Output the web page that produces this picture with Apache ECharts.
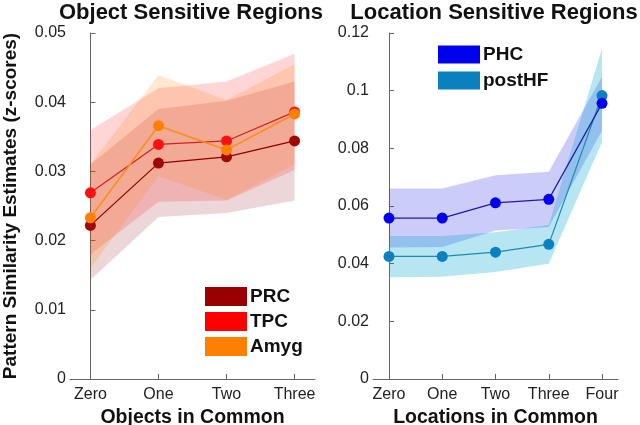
<!DOCTYPE html>
<html>
<head>
<meta charset="utf-8">
<script src="https://cdn.jsdelivr.net/npm/echarts@6/dist/echarts.min.js"></script>
<style>
  html, body { margin: 0; padding: 0; background: #fff; }
  #chart { width: 640px; height: 425px; }
</style>
</head>
<body>
<div id="chart"></div>
<script>
// left panel: object sensitive regions
const objLabels = ['Zero', 'One', 'Two', 'Three'];
const prcMean = [0.0222, 0.0312, 0.0321, 0.0344];
const prcLow = [0.0143, 0.0234, 0.0240, 0.0258];
const prcHigh = [0.0310, 0.0390, 0.0402, 0.0430];
const tpcMean = [0.0269, 0.0339, 0.0344, 0.0386];
const tpcLow = [0.0180, 0.0256, 0.0258, 0.0302];
const tpcHigh = [0.0360, 0.0420, 0.0430, 0.0470];
const amygMean = [0.0233, 0.0366, 0.0331, 0.0383];
const amygLow = [0.0160, 0.0293, 0.0259, 0.0310];
const amygHigh = [0.0310, 0.0439, 0.0403, 0.0455];

// right panel: location sensitive regions
const locLabels = ['Zero', 'One', 'Two', 'Three', 'Four'];
const phcMean = [0.0558, 0.0558, 0.0611, 0.0623, 0.0956];
const phcLow = [0.0456, 0.0458, 0.0515, 0.0527, 0.0862];
const phcHigh = [0.0661, 0.0661, 0.0707, 0.0719, 0.1048];
const hfMean = [0.0425, 0.0425, 0.0440, 0.0467, 0.0983];
const hfLow = [0.0353, 0.0355, 0.0371, 0.0400, 0.0822];
const hfHigh = [0.0496, 0.0496, 0.0509, 0.0534, 0.1147];

const FONT = '"Liberation Sans", Arial, Helvetica, sans-serif';
const AXIS = '#666';

const chart = echarts.init(document.getElementById('chart'));

// shaded error band, drawn as one polygon
function band(name, gi, low, high, fill, color) {
  return {
    type: 'custom',
    name: name,
    xAxisIndex: gi,
    yAxisIndex: gi,
    silent: true,
    z: 1,
    itemStyle: { color: color },
    data: low.map((v, i) => [i, v, high[i]]),
    encode: { x: 0, y: [1, 2] },
    renderItem: (params, api) => {
      if (params.dataIndex !== 0) return null;
      const top = high.map((v, i) => api.coord([i, v]));
      const bot = low.map((v, i) => api.coord([i, v])).reverse();
      return {
        type: 'polygon',
        shape: { points: top.concat(bot) },
        style: { fill: fill }
      };
    }
  };
}

function meanLine(name, gi, vals, dot, line, width) {
  return {
    type: 'line',
    name: name,
    xAxisIndex: gi,
    yAxisIndex: gi,
    z: 3,
    data: vals.map((v, i) => [i, v]),
    symbol: 'circle',
    symbolSize: 11,
    itemStyle: { color: dot },
    lineStyle: { color: line, width: width },
    silent: true
  };
}

function xAxis(gi, labels, name) {
  const ticks = labels.map((_, i) => i);
  return {
    type: 'value',
    gridIndex: gi,
    min: -0.3,
    max: labels.length - 0.7,
    axisLine: { lineStyle: { color: AXIS, width: 1 } },
    axisTick: { inside: true, length: 5, customValues: ticks, lineStyle: { color: AXIS } },
    axisLabel: {
      customValues: ticks,
      formatter: v => labels[Math.round(v)],
      fontSize: 16, color: '#222', fontFamily: FONT, margin: 8
    },
    splitLine: { show: false },
    name: name,
    nameLocation: 'middle',
    nameGap: 25,
    nameTextStyle: { fontSize: 19.5, fontWeight: 'bold', color: '#111', fontFamily: FONT }
  };
}

function yAxis(gi, max, interval, extra) {
  return Object.assign({
    type: 'value',
    gridIndex: gi,
    min: 0,
    max: max,
    interval: interval,
    axisLine: { show: true, lineStyle: { color: AXIS, width: 1 } },
    axisTick: { show: true, inside: true, length: 5, lineStyle: { color: AXIS } },
    axisLabel: { fontSize: 16, color: '#222', fontFamily: FONT, margin: 4 },
    splitLine: { show: false }
  }, extra || {});
}

const legendText = { fontSize: 19, fontWeight: 'bold', color: '#111', fontFamily: FONT, padding: [0, 0, 0, -2] };

const option = {
  backgroundColor: '#fff',
  animation: false,
  grid: [
    { left: 70, top: 33, width: 245, height: 346, containLabel: false, outerBoundsMode: 'none' },
    { left: 373, top: 33, width: 245, height: 346, containLabel: false, outerBoundsMode: 'none' }
  ],
  graphic: [
    {
      type: 'text', x: 191, y: 13,
      style: {
        text: 'Object Sensitive Regions', fontSize: 22, fontWeight: 'bold',
        fontFamily: FONT, fill: '#111', align: 'center', verticalAlign: 'middle'
      }
    },
    {
      type: 'text', x: 494, y: 13,
      style: {
        text: 'Location Sensitive Regions', fontSize: 22, fontWeight: 'bold',
        fontFamily: FONT, fill: '#111', align: 'center', verticalAlign: 'middle'
      }
    }
  ],
  legend: [
    {
      left: 205, top: 287, orient: 'vertical', padding: 0,
      icon: 'rect', itemWidth: 42, itemHeight: 19, itemGap: 6,
      selectedMode: false,
      textStyle: legendText,
      data: ['PRC', 'TPC', 'Amyg']
    },
    {
      left: 438, top: 45, orient: 'vertical', padding: 0,
      icon: 'rect', itemWidth: 42, itemHeight: 18, itemGap: 7,
      selectedMode: false,
      textStyle: legendText,
      data: ['PHC', 'postHF']
    }
  ],
  xAxis: [
    xAxis(0, objLabels, 'Objects in Common'),
    xAxis(1, locLabels, 'Locations in Common')
  ],
  yAxis: [
    yAxis(0, 0.05, 0.01, {
      name: 'Pattern Similarity Estimates (z-scores)',
      nameLocation: 'middle',
      nameGap: 50,
      nameTextStyle: { fontSize: 19, fontWeight: 'bold', color: '#111', fontFamily: FONT }
    }),
    yAxis(1, 0.12, 0.02)
  ],
  series: [
    band('PRC', 0, prcLow, prcHigh, 'rgba(150,10,20,0.17)', '#990000'),
    band('TPC', 0, tpcLow, tpcHigh, 'rgba(255,20,30,0.18)', '#ff0000'),
    band('Amyg', 0, amygLow, amygHigh, 'rgba(255,135,20,0.2)', '#ff8000'),
    meanLine('PRC mean', 0, prcMean, '#a00808', '#8b0000', 1.2),
    meanLine('TPC mean', 0, tpcMean, '#ff1010', '#d42020', 1.2),
    meanLine('Amyg mean', 0, amygMean, '#ff8000', '#ff8c1a', 1.5),

    band('PHC', 1, phcLow, phcHigh, 'rgba(40,40,230,0.24)', '#0000ee'),
    band('postHF', 1, hfLow, hfHigh, 'rgba(0,160,210,0.28)', '#0a80c0'),
    meanLine('postHF mean', 1, hfMean, '#0a80c0', '#1a8cb0', 1.2),
    meanLine('PHC mean', 1, phcMean, '#0000f0', '#1c1ca0', 1.2)
  ]
};

chart.setOption(option);
</script>
</body>
</html>
